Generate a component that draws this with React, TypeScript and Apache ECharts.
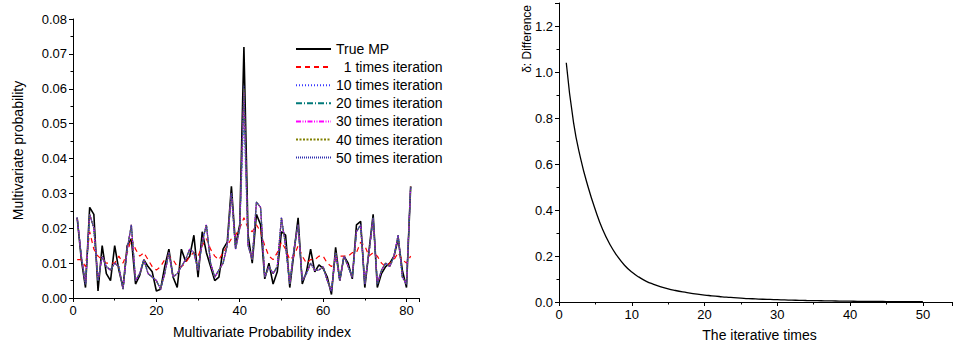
import React, { useEffect, useRef } from "react";
import * as echarts from "echarts";

// Left chart: index 1..81
const mpIndex: number[] = Array.from({ length: 81 }, (_, i) => i + 1);

const trueMP: number[] = [
  0.023, 0.011, 0.003, 0.026, 0.024, 0.002, 0.015, 0.007, 0.005, 0.015,
  0.008, 0.003, 0.015, 0.017, 0.004, 0.0065, 0.011, 0.009, 0.0075, 0.002,
  0.0025, 0.009, 0.014, 0.006, 0.003, 0.014, 0.0105, 0.012, 0.018, 0.006,
  0.019, 0.013, 0.009, 0.005, 0.006, 0.014, 0.016, 0.032, 0.015, 0.021,
  0.072, 0.018, 0.010, 0.024, 0.021, 0.0055, 0.010, 0.004, 0.0075, 0.019,
  0.018, 0.003, 0.013, 0.023, 0.004, 0.0075, 0.014, 0.0075, 0.0095, 0.0085,
  0.006, 0.001, 0.0145, 0.005, 0.012, 0.010, 0.0055, 0.021, 0.022, 0.003,
  0.0135, 0.024, 0.003, 0.007, 0.009, 0.010, 0.012, 0.017, 0.008, 0.003,
  0.032,
];

const iter1: number[] = [
  0.011, 0.011, 0.009, 0.019, 0.014, 0.012, 0.011, 0.010, 0.010, 0.010,
  0.012, 0.010, 0.013, 0.017, 0.014, 0.012, 0.013, 0.011, 0.009, 0.008,
  0.009, 0.011, 0.012, 0.011, 0.009, 0.009, 0.010, 0.012, 0.013, 0.012,
  0.015, 0.017, 0.014, 0.012, 0.011, 0.013, 0.015, 0.017, 0.018, 0.020,
  0.023, 0.020, 0.019, 0.021, 0.019, 0.015, 0.012, 0.011, 0.013, 0.016,
  0.014, 0.011, 0.012, 0.015, 0.012, 0.010, 0.011, 0.011, 0.012, 0.012,
  0.010, 0.009, 0.011, 0.012, 0.012, 0.012, 0.013, 0.013, 0.016, 0.015,
  0.012, 0.013, 0.012, 0.010, 0.009, 0.010, 0.011, 0.013, 0.011, 0.010,
  0.012,
];

const iter10: number[] = [
  0.023, 0.012, 0.004, 0.024, 0.020, 0.005, 0.012, 0.009, 0.008, 0.010,
  0.009, 0.0025, 0.014, 0.021, 0.005, 0.007, 0.011, 0.007, 0.006, 0.005,
  0.0025, 0.007, 0.013, 0.006, 0.007, 0.009, 0.011, 0.014, 0.013, 0.008,
  0.016, 0.021, 0.010, 0.006, 0.008, 0.010, 0.015, 0.030, 0.014, 0.020,
  0.052, 0.015, 0.011, 0.0275, 0.026, 0.006, 0.009, 0.007, 0.009, 0.023,
  0.015, 0.004, 0.014, 0.021, 0.005, 0.007, 0.010, 0.008, 0.008, 0.009,
  0.005, 0.002, 0.013, 0.005, 0.012, 0.009, 0.006, 0.019, 0.021, 0.004,
  0.013, 0.023, 0.004, 0.008, 0.010, 0.009, 0.012, 0.018, 0.006, 0.004,
  0.032,
];

const iter20: number[] = [
  0.023, 0.012, 0.004, 0.024, 0.020, 0.005, 0.012, 0.009, 0.008, 0.010,
  0.009, 0.0025, 0.014, 0.021, 0.005, 0.007, 0.011, 0.007, 0.006, 0.005,
  0.0025, 0.007, 0.013, 0.006, 0.007, 0.009, 0.011, 0.014, 0.013, 0.008,
  0.016, 0.021, 0.010, 0.006, 0.008, 0.010, 0.015, 0.030, 0.014, 0.020,
  0.057, 0.015, 0.011, 0.0275, 0.026, 0.006, 0.009, 0.007, 0.009, 0.023,
  0.015, 0.004, 0.014, 0.021, 0.005, 0.007, 0.010, 0.008, 0.008, 0.009,
  0.005, 0.002, 0.013, 0.005, 0.012, 0.009, 0.006, 0.019, 0.021, 0.004,
  0.013, 0.023, 0.004, 0.008, 0.010, 0.009, 0.012, 0.018, 0.006, 0.004,
  0.032,
];

const iter30: number[] = [
  0.023, 0.012, 0.004, 0.024, 0.020, 0.005, 0.012, 0.009, 0.008, 0.010,
  0.009, 0.0025, 0.014, 0.021, 0.005, 0.007, 0.011, 0.007, 0.006, 0.005,
  0.0025, 0.007, 0.013, 0.006, 0.007, 0.009, 0.011, 0.014, 0.013, 0.008,
  0.016, 0.021, 0.010, 0.006, 0.008, 0.010, 0.015, 0.030, 0.014, 0.020,
  0.059, 0.015, 0.011, 0.0275, 0.026, 0.006, 0.009, 0.007, 0.009, 0.023,
  0.015, 0.004, 0.014, 0.021, 0.005, 0.007, 0.010, 0.008, 0.008, 0.009,
  0.005, 0.002, 0.013, 0.005, 0.012, 0.009, 0.006, 0.019, 0.021, 0.004,
  0.013, 0.023, 0.004, 0.008, 0.010, 0.009, 0.012, 0.018, 0.006, 0.004,
  0.032,
];

const iter40: number[] = [
  0.023, 0.012, 0.004, 0.024, 0.020, 0.005, 0.012, 0.009, 0.008, 0.010,
  0.009, 0.0025, 0.014, 0.021, 0.005, 0.007, 0.011, 0.007, 0.006, 0.005,
  0.0025, 0.007, 0.013, 0.006, 0.007, 0.009, 0.011, 0.014, 0.013, 0.008,
  0.016, 0.021, 0.010, 0.006, 0.008, 0.010, 0.015, 0.030, 0.014, 0.020,
  0.060, 0.015, 0.011, 0.0275, 0.026, 0.006, 0.009, 0.007, 0.009, 0.023,
  0.015, 0.004, 0.014, 0.021, 0.005, 0.007, 0.010, 0.008, 0.008, 0.009,
  0.005, 0.002, 0.013, 0.005, 0.012, 0.009, 0.006, 0.019, 0.021, 0.004,
  0.013, 0.023, 0.004, 0.008, 0.010, 0.009, 0.012, 0.018, 0.006, 0.004,
  0.032,
];

const iter50: number[] = [
  0.023, 0.012, 0.004, 0.024, 0.020, 0.005, 0.012, 0.009, 0.008, 0.010,
  0.009, 0.0025, 0.014, 0.021, 0.005, 0.007, 0.011, 0.007, 0.006, 0.005,
  0.0025, 0.007, 0.013, 0.006, 0.007, 0.009, 0.011, 0.014, 0.013, 0.008,
  0.016, 0.021, 0.010, 0.006, 0.008, 0.010, 0.015, 0.030, 0.014, 0.020,
  0.061, 0.015, 0.011, 0.0275, 0.026, 0.006, 0.009, 0.007, 0.009, 0.023,
  0.015, 0.004, 0.014, 0.021, 0.005, 0.007, 0.010, 0.008, 0.008, 0.009,
  0.005, 0.002, 0.013, 0.005, 0.012, 0.009, 0.006, 0.019, 0.021, 0.004,
  0.013, 0.023, 0.004, 0.008, 0.010, 0.009, 0.012, 0.018, 0.006, 0.004,
  0.032,
];

// Right chart
const iterTimes: number[] = Array.from({ length: 50 }, (_, i) => i + 1);
const difference: number[] = [
  1.04, 0.78, 0.62, 0.5, 0.4, 0.315, 0.25, 0.2, 0.16, 0.13,
  0.108, 0.09, 0.077, 0.066, 0.057, 0.05, 0.044, 0.039, 0.034, 0.03,
  0.027, 0.024, 0.021, 0.019, 0.017, 0.015, 0.0135, 0.012, 0.011, 0.01,
  0.009, 0.008, 0.0072, 0.0065, 0.006, 0.0054, 0.0048, 0.0043, 0.0038, 0.0034,
  0.003, 0.0027, 0.0024, 0.0022, 0.002, 0.0018, 0.0016, 0.0014, 0.0012, 0.001,
];

const FONT = "Liberation Sans, Arial, sans-serif";

function pairs(xs: number[], ys: number[]) {
  return xs.map((x, i) => [x, ys[i]]);
}

export default function App() {
  const ref = useRef<HTMLDivElement>(null);
  useEffect(() => {
    if (!ref.current) return;
    const chart = echarts.init(ref.current, undefined, { renderer: "svg" });
    const axisCommon = {
      axisLine: { show: true, lineStyle: { color: "#000", width: 1 } },
      axisTick: { show: true, length: 4, lineStyle: { color: "#000" } },
      minorTick: { show: true, splitNumber: 2, length: 2.5, lineStyle: { color: "#000" } },
      splitLine: { show: false },
      minorSplitLine: { show: false },
      axisLabel: { color: "#000", fontFamily: FONT, fontSize: 13 },
      nameTextStyle: { color: "#000", fontFamily: FONT, fontSize: 14 },
      nameMoveOverlap: false,
    };
    const lineBase = { type: "line", showSymbol: false, symbol: "none", xAxisIndex: 0, yAxisIndex: 0 };
    chart.setOption({
      animation: false,
      backgroundColor: "#fff",
      textStyle: { fontFamily: FONT },
      grid: [
        { left: 73, top: 19, width: 346, height: 279, containLabel: false, outerBoundsMode: "none" },
        { left: 559, top: 3, width: 393, height: 299, containLabel: false, outerBoundsMode: "none" },
      ],
      legend: {
        left: 290,
        top: 37,
        orient: "vertical",
        itemWidth: 35,
        itemHeight: 14,
        itemGap: 4.1,
        itemStyle: { opacity: 0 },
        textStyle: { color: "#000", fontFamily: FONT, fontSize: 14 },
        data: [
          "True MP",
          "\u20071 times iteration",
          "10 times iteration",
          "20 times iteration",
          "30 times iteration",
          "40 times iteration",
          "50 times iteration",
        ],
      },
      xAxis: [
        {
          ...axisCommon,
          gridIndex: 0,
          type: "value",
          min: 0,
          max: 83,
          interval: 20,
          axisLabel: { ...axisCommon.axisLabel, showMaxLabel: false, margin: 6 },
          name: "Multivariate Probability index",
          nameLocation: "middle",
          nameGap: 27,
          nameTextStyle: { ...axisCommon.nameTextStyle, padding: [0, 0, 0, 32] },
        },
        {
          ...axisCommon,
          gridIndex: 1,
          type: "value",
          min: 0,
          max: 54,
          interval: 10,
          axisLabel: { ...axisCommon.axisLabel, showMaxLabel: false, margin: 6 },
          name: "The iterative times",
          nameLocation: "middle",
          nameGap: 26,
          nameTextStyle: { ...axisCommon.nameTextStyle, padding: [0, 0, 0, 8] },
        },
      ],
      yAxis: [
        {
          ...axisCommon,
          gridIndex: 0,
          type: "value",
          min: 0,
          max: 0.08,
          interval: 0.01,
          axisLabel: { ...axisCommon.axisLabel, formatter: (v: number) => v.toFixed(2), margin: 6 },
          name: "Multivariate probability",
          nameLocation: "middle",
          nameGap: 48,
          nameTextStyle: { ...axisCommon.nameTextStyle, padding: [0, 0, 0, 16] },
        },
        {
          ...axisCommon,
          gridIndex: 1,
          type: "value",
          min: 0,
          max: 1.3,
          interval: 0.2,
          axisLabel: { ...axisCommon.axisLabel, formatter: (v: number) => v.toFixed(1), showMaxLabel: false, margin: 6 },
          name: "δ: Difference",
          nameLocation: "end",
          nameRotate: 90,
          nameGap: -2,
          nameTextStyle: { color: "#000", fontFamily: FONT, fontSize: 12, align: "right", verticalAlign: "bottom", padding: [0, 0, 26, 0] },
        },
      ],
      series: [
        { ...lineBase, name: "True MP", data: pairs(mpIndex, trueMP), lineStyle: { color: "#000", width: 1.6 }, itemStyle: { color: "#000" }, z: 2 },
        { ...lineBase, name: "\u20071 times iteration", data: pairs(mpIndex, iter1), lineStyle: { color: "#ff0000", width: 1.2, type: [5, 4] }, itemStyle: { color: "#ff0000" }, z: 3 },
        { ...lineBase, name: "10 times iteration", data: pairs(mpIndex, iter10), lineStyle: { color: "#3a3aff", width: 1.3, type: [1, 2] }, itemStyle: { color: "#3a3aff" }, z: 3 },
        { ...lineBase, name: "20 times iteration", data: pairs(mpIndex, iter20), lineStyle: { color: "#007a7a", width: 1.2, type: [6, 2, 1, 2] }, itemStyle: { color: "#007a7a" }, z: 3 },
        { ...lineBase, name: "30 times iteration", data: pairs(mpIndex, iter30), lineStyle: { color: "#ff00ff", width: 1.2, type: [5, 1.5, 1, 1.5, 1, 1.5] }, itemStyle: { color: "#ff00ff" }, z: 3 },
        { ...lineBase, name: "40 times iteration", data: pairs(mpIndex, iter40), lineStyle: { color: "#808000", width: 1.2, type: [2, 1.5] }, itemStyle: { color: "#808000" }, z: 3 },
        { ...lineBase, name: "50 times iteration", data: pairs(mpIndex, iter50), lineStyle: { color: "#3030b0", width: 1.2, type: [1, 1] }, itemStyle: { color: "#3030b0" }, z: 3 },
        {
          type: "line",
          name: "δ",
          xAxisIndex: 1,
          yAxisIndex: 1,
          showSymbol: false,
          symbol: "none",
          smooth: true,
          data: pairs(iterTimes, difference),
          lineStyle: { color: "#000", width: 1.3 },
        },
      ],
    });
    return () => chart.dispose();
  }, []);
  return (
    <div
      ref={ref}
      style={{ position: "absolute", left: 0, top: 0, width: 954, height: 345 }}
    />
  );
}
